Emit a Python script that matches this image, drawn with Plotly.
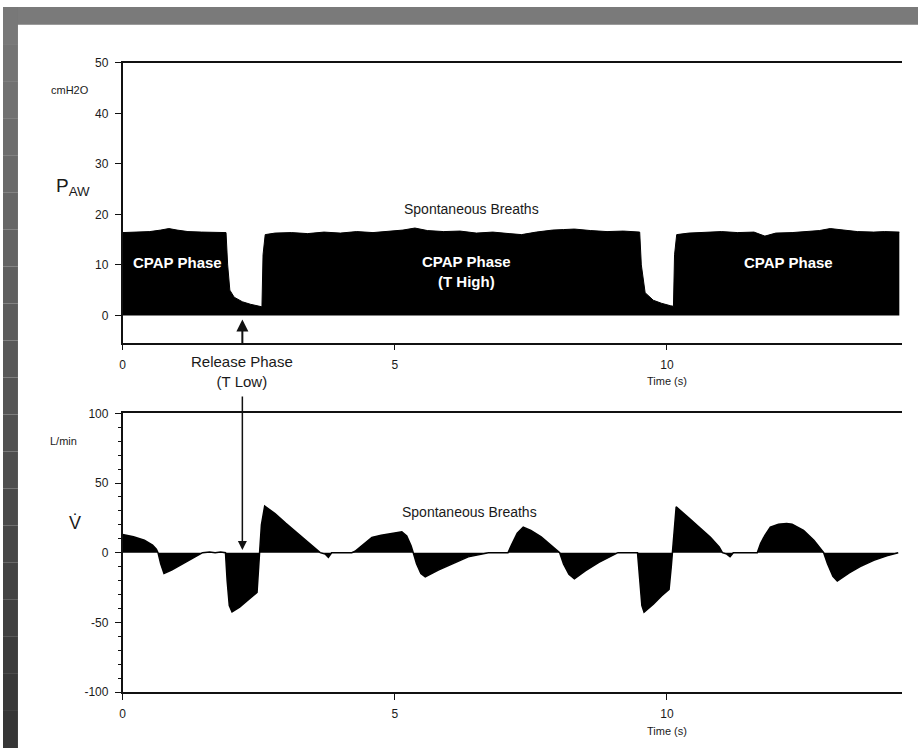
import plotly.graph_objects as go

# ---------------- data ----------------
# Airway pressure P_AW (cmH2O) upper envelope vs time (s)
paw_t = [0.0, 0.25, 0.5, 0.7, 0.85, 1.0, 1.2, 1.45, 1.7, 1.9, 1.93, 1.97, 2.05, 2.2, 2.35, 2.5, 2.56,
         2.58, 2.62, 2.8, 3.1, 3.4, 3.7, 4.0, 4.3, 4.6, 4.9, 5.15, 5.37, 5.6, 5.9, 6.2, 6.5, 6.8,
         7.1, 7.33, 7.6, 7.9, 8.1, 8.3, 8.6, 8.9, 9.2, 9.5, 9.53, 9.6, 9.75, 9.9, 10.07, 10.12,
         10.14, 10.18, 10.4, 10.7, 11.0, 11.3, 11.6, 11.8, 12.0, 12.3, 12.6, 12.8, 13.0, 13.2,
         13.5, 13.8, 14.0, 14.27]
paw_v = [16.4, 16.5, 16.6, 16.9, 17.2, 16.9, 16.6, 16.5, 16.4, 16.4, 10.0, 5.0, 3.6, 2.7, 2.2, 1.9, 1.7,
         12.0, 16.0, 16.3, 16.4, 16.2, 16.5, 16.3, 16.6, 16.4, 16.7, 16.9, 17.3, 16.8, 16.6, 16.7, 16.3, 16.5,
         16.2, 16.0, 16.5, 16.9, 17.0, 17.1, 16.8, 16.6, 16.7, 16.5, 10.0, 4.5, 3.0, 2.4, 1.9, 1.8,
         12.0, 16.0, 16.3, 16.5, 16.6, 16.4, 16.5, 15.7, 16.3, 16.4, 16.6, 16.8, 17.2, 16.9,
         16.6, 16.5, 16.6, 16.5]

# Flow V' (L/min) vs time (s)
flow_t = [0.0, 0.2, 0.4, 0.55, 0.62, 0.65, 0.7, 0.76, 0.9, 1.1, 1.3, 1.47, 1.6, 1.7, 1.8, 1.89,
          1.92, 1.96, 2.01, 2.15, 2.3, 2.47, 2.5, 2.52, 2.55, 2.61, 2.8, 3.0, 3.2, 3.48, 3.63,
          3.72, 3.78, 3.84, 4.21, 4.27, 4.33, 4.45, 4.58, 4.75, 4.95, 5.13, 5.22, 5.3, 5.34,
          5.4, 5.48, 5.56, 5.8, 6.1, 6.35, 6.72, 7.08, 7.15, 7.25, 7.36, 7.5, 7.69, 7.88, 8.03,
          8.1, 8.2, 8.3, 8.5, 8.75, 9.0, 9.1, 9.46, 9.5, 9.54, 9.58, 9.75, 9.9, 10.04, 10.08,
          10.1, 10.13, 10.17, 10.4, 10.6, 10.8, 10.96, 11.02, 11.1, 11.16, 11.22, 11.66, 11.72,
          11.8, 11.9, 12.05, 12.2, 12.3, 12.51, 12.7, 12.82, 12.88, 12.95, 13.05, 13.13, 13.35,
          13.55, 13.8, 14.04, 14.25]
flow_v = [13.0, 11.5, 9.0, 5.5, 2.5, 0.0, -8.0, -15.0, -12.5, -8.0, -3.5, 0.0, 0.5, 0.0, 0.5, 0.0,
          -20.0, -38.0, -42.5, -39.0, -34.0, -28.5, -10.0, 0.0, 20.0, 33.5, 28.0, 21.0, 14.5, 5.5, 0.0,
          -1.0, -3.3, 0.0, 0.0, 1.0, 3.0, 7.0, 11.0, 12.5, 13.6, 15.0, 12.0, 5.0, 0.0,
          -8.0, -15.0, -17.4, -12.5, -7.0, -3.0, 0.0, 0.0, 6.0, 14.0, 18.3, 16.0, 11.3, 5.0, 0.0,
          -8.0, -15.5, -18.8, -13.0, -7.0, -2.0, 0.0, 0.0, -20.0, -38.0, -42.7, -37.0, -31.0, -26.3, -10.0,
          0.0, 18.0, 32.9, 25.0, 18.0, 11.0, 4.2, 0.0, -1.0, -2.8, 0.0, 0.0, 6.6,
          12.5, 18.3, 20.5, 21.0, 20.5, 16.0, 9.0, 3.0, 0.0, -8.0, -17.0, -20.4, -14.5,
          -10.0, -5.5, -2.3, 0.0]

time_ticks = [0, 5, 10]
time_labels = ["0", "5", "10"]
paw_ticks = [0, 10, 20, 30, 40, 50]
paw_labels = ["0", "10", "20", "30", "40", "50"]
flow_ticks = [-100, -50, 0, 50, 100]
flow_labels = ["-100", "-50", "0", "50", "100"]

# ---------------- figure ----------------
W, H = 918, 755
FONT = "Liberation Sans, Arial, sans-serif"
INK = "#1a1a1a"


def px(x):
    return x / W


def py(y):
    return 1 - y / H


fig = go.Figure()
fig.add_trace(go.Scatter(x=paw_t, y=paw_v, mode="lines", line=dict(color="black", width=1),
                         fill="tozeroy", fillcolor="black", xaxis="x", yaxis="y",
                         hoverinfo="skip", showlegend=False))
fig.add_trace(go.Scatter(x=flow_t, y=flow_v, mode="lines", line=dict(color="black", width=1.5),
                         fill="tozeroy", fillcolor="black", xaxis="x2", yaxis="y2",
                         hoverinfo="skip", showlegend=False))

axis_common = dict(showgrid=False, zeroline=False, showline=True, linecolor="#111",
                   linewidth=1.5, ticks="outside", tickcolor="#111", tickwidth=1.2,
                   tickfont=dict(family=FONT, size=12, color=INK))

xdom = [px(120), px(902)]
fig.update_layout(
    width=W, height=H,
    margin=dict(l=0, r=0, t=0, b=0),
    paper_bgcolor="white", plot_bgcolor="white",
    font=dict(family=FONT, color=INK),
    xaxis=dict(domain=xdom, range=[0, 14.32], anchor="y", mirror=True, ticklen=6,
               tickvals=time_ticks, ticktext=time_labels, ticklabelstandoff=4, **axis_common),
    yaxis=dict(domain=[py(342), py(57)], range=[-5.4, 50], anchor="x", ticklen=6,
               tickvals=paw_ticks, ticktext=paw_labels, ticklabelstandoff=4, **axis_common),
    xaxis2=dict(domain=xdom, range=[0, 14.32], anchor="y2", mirror=True, ticklen=6,
                tickvals=time_ticks, ticktext=time_labels, ticklabelstandoff=4, **axis_common),
    yaxis2=dict(domain=[py(698), py(414)], range=[-100, 100], anchor="x2", ticklen=6,
                tickvals=flow_ticks, ticktext=flow_labels, ticklabelstandoff=4,
                minor=dict(dtick=10, ticks="outside", ticklen=3, tickcolor="#111"),
                **axis_common),
)

# dark border strips (left gradient + top)
shapes = []
shapes.append(dict(type="rect", xref="paper", yref="paper", x0=0, x1=1, y0=py(18), y1=1,
                   fillcolor="#7a7a7a", line=dict(width=0), layer="below"))
n = 20
for i in range(n):
    g = int(0x78 - (0x78 - 0x36) * i / (n - 1))
    col = "#%02x%02x%02x" % (g, g, g)
    shapes.append(dict(type="rect", xref="paper", yref="paper", x0=0, x1=px(15),
                       y0=1 - (i + 1) / n, y1=1 - i / n,
                       fillcolor=col, line=dict(width=0), layer="below"))
fig.update_layout(shapes=shapes)

ann = []


def ptext(x, y, text, size=12, color=INK, **kw):
    ann.append(dict(x=px(x), y=py(y), xref="paper", yref="paper", text=text, showarrow=False,
                    font=dict(family=FONT, size=size, color=color), xanchor="center",
                    yanchor="middle", **kw))


# axis unit / quantity labels
ptext(67, 85, "cmH2O", size=11)
ptext(70, 183, "P<sub>AW</sub>", size=19)
ptext(61, 442, "L/min", size=11)
ptext(72, 526, "V\u0307", size=18)

# Time labels
ptext(666, 381, "Time (s)", size=11)
ptext(666, 738, "Time (s)", size=11)

# In-plot labels
ptext(470, 206, "Spontaneous Breaths", size=14)
ptext(468, 515, "Spontaneous Breaths", size=14)
ptext(175, 260, "<b>CPAP Phase</b>", size=15, color="white")
ptext(465, 270, "<b>CPAP Phase</b><br><b>(T High)</b>", size=15, color="white")
ptext(788, 260, "<b>CPAP Phase</b>", size=15, color="white")
ptext(240, 371, "Release Phase<br>(T Low)", size=15)

# arrows
ann.append(dict(x=2.2, y=-0.8, xref="x", yref="y", ax=0, ay=27, showarrow=True,
                arrowhead=2, arrowsize=1.2, arrowwidth=2, arrowcolor="#111", text=""))
ann.append(dict(x=2.2, y=2, xref="x2", yref="y2", ax=0, ay=-155, showarrow=True,
                arrowhead=2, arrowsize=1.2, arrowwidth=1.5, arrowcolor="#111", text=""))

fig.update_layout(annotations=ann)

fig.write_html(
    "out.html",
    config={"displayModeBar": False},
    post_script="document.body.style.margin='0';document.body.style.padding='0';"
                "document.documentElement.style.margin='0';",
)
